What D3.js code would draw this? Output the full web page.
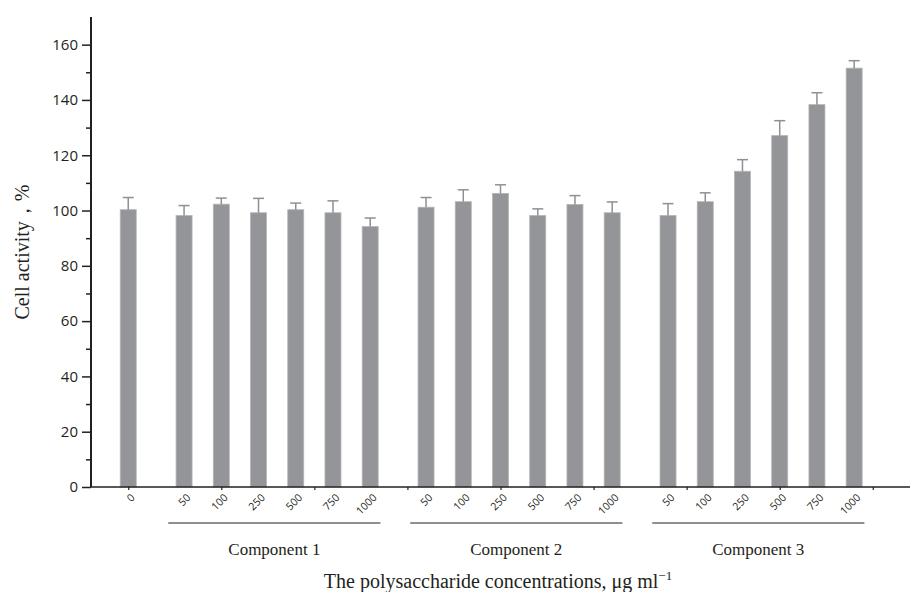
<!DOCTYPE html>
<html>
<head>
<meta charset="utf-8">
<script src="https://cdn.jsdelivr.net/npm/d3@7"></script>
<style>
  body { margin: 0; background: #fff; }
  .serif { font-family: "Liberation Serif", "Times New Roman", serif; fill: #231f20; }
  .tick text { font-family: "Open Sans", "Noto Sans", sans-serif; fill: #231f20; }
</style>
</head>
<body>
<div id="chart"></div>
<script>
// data
const groups = ['Component 1', 'Component 2', 'Component 3'];
const concLabels = ['50', '100', '250', '500', '750', '1000'];
const controlLabel = '0';
const controlValue = 100.3;
const controlErr = 4.4;
const comp1 = [98.2, 102.3, 99.2, 100.3, 99.2, 94.2];
const comp1Err = [3.6, 2.2, 5.2, 2.4, 4.3, 3.1];
const comp2 = [101.2, 103.2, 106.2, 98.2, 102.2, 99.2];
const comp2Err = [3.5, 4.3, 3.1, 2.4, 3.2, 3.9];
const comp3 = [98.2, 103.2, 114.2, 127.1, 138.3, 151.5];
const comp3Err = [4.3, 3.2, 4.2, 5.4, 4.3, 2.7];
const yTicks = [0, 20, 40, 60, 80, 100, 120, 140, 160];

const width = 920, height = 592;
const margin = { top: 17, right: 10, bottom: 105, left: 91 };

const svg = d3.select('#chart').append('svg')
  .attr('width', width)
  .attr('height', height);

// slot layout: control at 0, each group starts 3 slots after the previous end
const seriesVals = [comp1, comp2, comp3];
const seriesErr = [comp1Err, comp2Err, comp3Err];
const bars = [{ label: controlLabel, value: controlValue, err: controlErr, slot: 0 }];
seriesVals.forEach((vals, g) => {
  vals.forEach((v, i) => {
    bars.push({ label: concLabels[i], value: v, err: seriesErr[g][i], slot: 3 + 13 * g + 2 * i, group: g });
  });
});

const x = d3.scaleLinear().domain([-2, 42]).range([margin.left, width - margin.right]);
const y = d3.scaleLinear().domain([0, 170]).range([height - margin.bottom, margin.top]);
const halfW = 0.43;

// bars
svg.selectAll('rect.bar')
  .data(bars)
  .enter()
  .append('rect')
  .attr('class', 'bar')
  .attr('x', (d) => x(d.slot - halfW))
  .attr('width', (d) => x(d.slot + halfW) - x(d.slot - halfW))
  .attr('y', (d) => y(d.value))
  .attr('height', (d) => y(0) - y(d.value))
  .style('fill', '#939598')
  .style('stroke', '#b4b5b7')
  .style('stroke-width', 0.8);

// error bars (upper only)
const eb = svg.selectAll('g.err')
  .data(bars)
  .enter()
  .append('g')
  .attr('class', 'err')
  .style('stroke', '#8f9093')
  .style('stroke-width', 1.5);
eb.append('line')
  .attr('x1', (d) => x(d.slot))
  .attr('x2', (d) => x(d.slot))
  .attr('y1', (d) => y(d.value))
  .attr('y2', (d) => y(d.value + d.err));
eb.append('line')
  .attr('x1', (d) => x(d.slot) - 5.5)
  .attr('x2', (d) => x(d.slot) + 5.5)
  .attr('y1', (d) => y(d.value + d.err))
  .attr('y2', (d) => y(d.value + d.err));

// y axis with minor ticks
const yMinor = svg.append('g')
  .attr('transform', `translate(${margin.left},0)`)
  .call(d3.axisLeft(y).tickValues(d3.range(10, 170, 20)).tickSize(5).tickFormat(''));
yMinor.select('.domain').remove();

const yAxis = svg.append('g')
  .attr('transform', `translate(${margin.left},0)`)
  .call(d3.axisLeft(y).tickValues(yTicks).tickSize(9).tickPadding(4));
yAxis.selectAll('text').style('font-size', '15px');

svg.selectAll('g.tick line').style('stroke', '#231f20').style('stroke-width', 1.5);
yAxis.select('.domain').attr('d', `M0,${y(170)}V${y(0)}`)
  .style('stroke', '#231f20').style('stroke-width', 2);

// x axis
const xAxis = svg.append('g')
  .attr('transform', `translate(0,${y(0)})`)
  .call(d3.axisBottom(x).tickValues(d3.range(0, 41, 5)).tickSize(3).tickFormat(''));
xAxis.select('.domain').attr('d', `M${x(-2)},0H${x(42)}`)
  .style('stroke', '#231f20').style('stroke-width', 1.5);
xAxis.selectAll('.tick line').style('stroke', '#231f20').style('stroke-width', 1.2);

// rotated concentration labels
svg.selectAll('text.conc')
  .data(bars)
  .enter()
  .append('text')
  .attr('class', 'conc')
  .attr('transform', (d) => `translate(${x(d.slot) + 2},${y(0) + 6}) rotate(-45)`)
  .attr('text-anchor', 'end')
  .attr('dy', '0.7em')
  .style('font-family', '"Open Sans", "Noto Sans", sans-serif')
  .style('font-size', '10.5px')
  .style('fill', '#231f20')
  .text((d) => d.label);

// group underlines and names
const groupSpans = groups.map((name, g) => {
  const slots = bars.filter((d) => d.group === g).map((d) => d.slot);
  return { name, x0: d3.min(slots) - 0.85, x1: d3.max(slots) + 0.55 };
});
svg.selectAll('line.grp')
  .data(groupSpans)
  .enter()
  .append('line')
  .attr('class', 'grp')
  .attr('x1', (d) => x(d.x0))
  .attr('x2', (d) => x(d.x1))
  .attr('y1', 523)
  .attr('y2', 523)
  .style('stroke', '#231f20')
  .style('stroke-width', 1);
svg.selectAll('text.grp')
  .data(groupSpans)
  .enter()
  .append('text')
  .attr('class', 'grp serif')
  .attr('x', (d) => (x(d.x0) + x(d.x1)) / 2)
  .attr('y', 555)
  .attr('text-anchor', 'middle')
  .style('font-size', '17px')
  .text((d) => d.name);

// axis titles
const xt = svg.append('text')
  .attr('class', 'serif')
  .attr('x', 498)
  .attr('y', 588)
  .attr('text-anchor', 'middle')
  .style('font-size', '20px');
xt.append('tspan').text('The polysaccharide concentrations, μg ml');
xt.append('tspan').attr('dy', -8).style('font-size', '13px').text('−1');

svg.append('text')
  .attr('class', 'serif')
  .attr('transform', `translate(29,${(y(0) + y(170)) / 2}) rotate(-90)`)
  .attr('text-anchor', 'middle')
  .style('font-size', '20px')
  .text('Cell activity，%');
</script>
</body>
</html>
